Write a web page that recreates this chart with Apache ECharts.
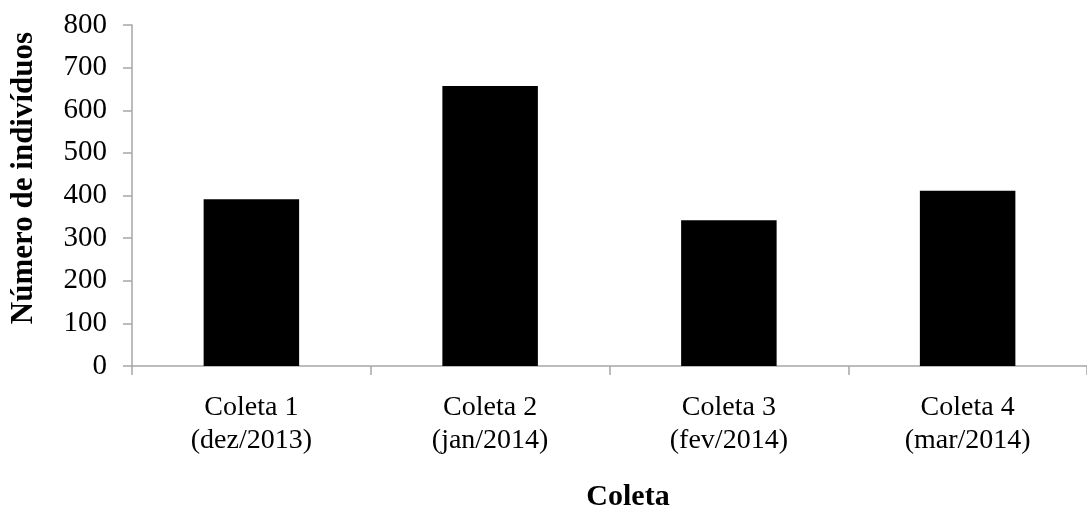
<!DOCTYPE html>
<html>
<head>
<meta charset="utf-8">
<script src="https://cdn.jsdelivr.net/npm/echarts@6/dist/echarts.min.js"></script>
<style>
  html, body { margin: 0; padding: 0; background: #fff; }
  #chart { width: 1087px; height: 518px; }
</style>
</head>
<body>
<div id="chart"></div>
<script>
// Sampling campaigns and number of individuals collected in each
const categories = ['Coleta 1\n(dez/2013)', 'Coleta 2\n(jan/2014)', 'Coleta 3\n(fev/2014)', 'Coleta 4\n(mar/2014)'];
const individuos = [391, 657, 342, 411];
const yTicks = { min: 0, max: 800, interval: 100 };
const yTitle = 'Número de indivíduos';
const xTitle = 'Coleta';

const serif = '"Liberation Serif", "Times New Roman", serif';
const axisGrey = '#a6a6a6';

const chart = echarts.init(document.getElementById('chart'), null, { renderer: 'canvas' });
chart.setOption({
  animation: false,
  backgroundColor: '#ffffff',
  grid: { left: 132, right: -5, top: 25, bottom: 152, containLabel: false },
  xAxis: {
    type: 'category',
    data: categories,
    axisLine: { lineStyle: { color: axisGrey, width: 1.5 } },
    axisTick: { show: true, length: 9, alignWithLabel: false, lineStyle: { color: axisGrey, width: 1.5 } },
    axisLabel: { color: '#000', fontFamily: serif, fontSize: 28, lineHeight: 33, margin: 25, interval: 0 }
  },
  yAxis: {
    type: 'value',
    min: yTicks.min,
    max: yTicks.max,
    interval: yTicks.interval,
    splitLine: { show: false },
    axisLine: { show: true, lineStyle: { color: axisGrey, width: 1.5 } },
    axisTick: { show: true, length: 9, lineStyle: { color: axisGrey, width: 1.5 } },
    axisLabel: { color: '#000', fontFamily: serif, fontSize: 29, margin: 25 }
  },
  graphic: [
    {
      type: 'text',
      x: 24, y: 178,
      rotation: Math.PI / 2,
      style: {
        text: yTitle, fill: '#000', font: 'bold 31px ' + serif,
        textAlign: 'center', textVerticalAlign: 'middle'
      }
    },
    {
      type: 'text',
      x: 628, y: 497,
      style: {
        text: xTitle, fill: '#000', font: 'bold 30px ' + serif,
        textAlign: 'center', textVerticalAlign: 'middle'
      }
    }
  ],
  series: [{
    type: 'bar',
    data: individuos,
    barWidth: '40%',
    itemStyle: { color: '#000000' }
  }]
});
</script>
</body>
</html>
